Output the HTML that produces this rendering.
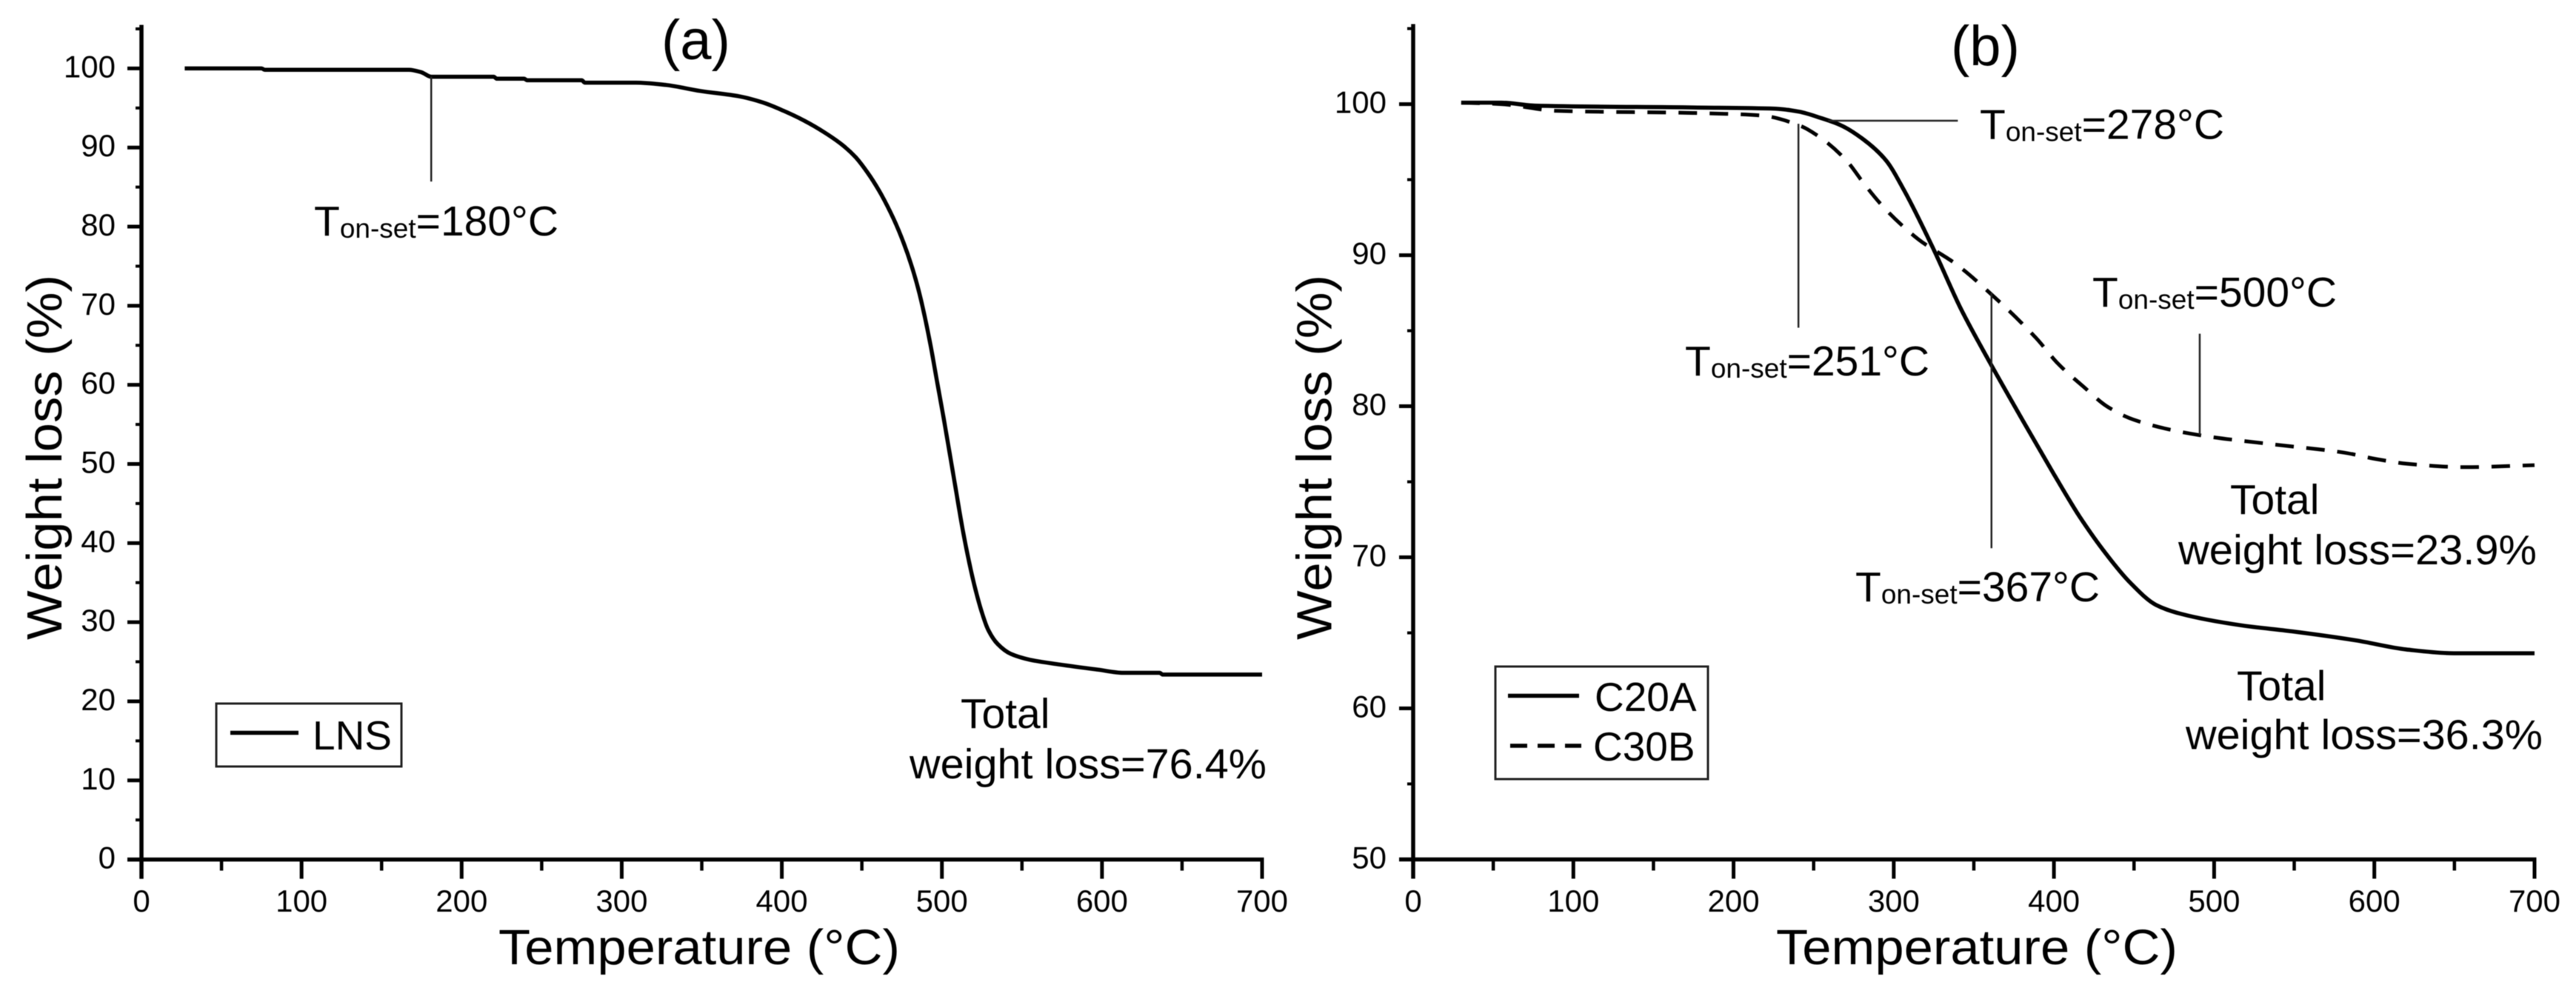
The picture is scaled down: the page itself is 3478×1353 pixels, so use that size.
<!DOCTYPE html>
<html lang="en">
<head>
<meta charset="utf-8">
<title>TGA weight loss curves</title>
<style>
html,body{margin:0;padding:0;background:#fff;}
svg{display:block;filter:blur(0.5px);}
text{font-family:"Liberation Sans",Arial,sans-serif;fill:#000;}
.tick{font-size:42px;}
.axt{font-size:67px;}
.ann{font-size:57px;}
.sub{font-size:37px;}
.ttl{font-size:76px;}
.leg{font-size:55px;}
</style>
</head>
<body>
<svg id="fig" xmlns="http://www.w3.org/2000/svg" width="3478" height="1353" viewBox="0 0 3478 1353">
  <g id="panelA">
    <text class="ttl" x="893" y="80">(a)</text>
    <text class="axt" x="673" y="1302" textLength="542" lengthAdjust="spacingAndGlyphs">Temperature (°C)</text>
    <text class="axt" transform="translate(83,864) rotate(-90)" textLength="493" lengthAdjust="spacingAndGlyphs">Weight loss (%)</text>
    <text class="ann" x="424" y="318">T<tspan class="sub" dy="3">on-set</tspan><tspan dy="-3">=180°C</tspan></text>
    <text class="ann" x="1297" y="983">Total</text>
    <text class="ann" x="1228" y="1051" textLength="482" lengthAdjust="spacingAndGlyphs">weight loss=76.4%</text>
    <rect x="292" y="950" width="250" height="85" fill="none" stroke="#222" stroke-width="3"/>
    <line x1="311" y1="989.5" x2="403" y2="989.5" stroke="#000" stroke-width="5.5"/>
    <text class="leg" x="422" y="1012">LNS</text>
  </g>
  <g id="panelB">
    <text class="ttl" x="2634" y="88">(b)</text>
    <text class="axt" x="2398" y="1302" textLength="542" lengthAdjust="spacingAndGlyphs">Temperature (°C)</text>
    <text class="axt" transform="translate(1797.6,864) rotate(-90)" textLength="493" lengthAdjust="spacingAndGlyphs">Weight loss (%)</text>
    <text class="ann" x="2275" y="507">T<tspan class="sub" dy="3">on-set</tspan><tspan dy="-3">=251°C</tspan></text>
    <text class="ann" x="2673" y="187.5">T<tspan class="sub" dy="3">on-set</tspan><tspan dy="-3">=278°C</tspan></text>
    <text class="ann" x="2825" y="414">T<tspan class="sub" dy="3">on-set</tspan><tspan dy="-3">=500°C</tspan></text>
    <text class="ann" x="2505" y="812">T<tspan class="sub" dy="3">on-set</tspan><tspan dy="-3">=367°C</tspan></text>
    <text class="ann" x="3011" y="694">Total</text>
    <text class="ann" x="2941" y="762" textLength="484" lengthAdjust="spacingAndGlyphs">weight loss=23.9%</text>
    <text class="ann" x="3020" y="945.7">Total</text>
    <text class="ann" x="2951" y="1011.5" textLength="482" lengthAdjust="spacingAndGlyphs">weight loss=36.3%</text>
    <rect x="2019" y="900" width="287" height="152" fill="none" stroke="#222" stroke-width="3"/>
    <line x1="2036" y1="939.5" x2="2132" y2="939.5" stroke="#000" stroke-width="5.5"/>
    <line x1="2039" y1="1007" x2="2135" y2="1007" stroke="#000" stroke-width="5.5" stroke-dasharray="23 14"/>
    <text class="leg" x="2153" y="960">C20A</text>
    <text class="leg" x="2151" y="1027">C30B</text>
  </g>
</svg>
<script>
// ---- chart values ----
const xTickLabels = [0, 100, 200, 300, 400, 500, 600, 700];
const xMinorValues = [50, 150, 250, 350, 450, 550, 650];
const yTickLabelsA = [0, 10, 20, 30, 40, 50, 60, 70, 80, 90, 100];
const yMinorValuesA = [5, 15, 25, 35, 45, 55, 65, 75, 85, 95, 105];
const yTickLabelsB = [50, 60, 70, 80, 90, 100];
const yMinorValuesB = [55, 65, 75, 85, 95, 105];

const lnsTemps = [27, 75, 77, 167, 175, 181, 220, 222, 239, 241, 275, 277, 309, 328, 349, 374, 388, 401, 414, 427.5, 438, 446, 454, 462, 470, 476, 481, 485, 489, 493, 497, 501, 505, 509, 513, 517, 521, 525, 529, 535, 543, 555, 573.6, 597.4, 613.4, 636, 638, 700];
const lnsWeights = [100, 100, 99.83, 99.83, 99.5, 98.95, 98.95, 98.7, 98.7, 98.5, 98.5, 98.2, 98.2, 97.9, 97.15, 96.45, 95.7, 94.65, 93.4, 91.8, 90.3, 88.8, 86.7, 84.1, 80.9, 78, 75.1, 72.3, 68.9, 64.9, 60.4, 55.9, 51.2, 46.4, 41.7, 37.6, 34.1, 31.2, 29, 27.2, 26, 25.25, 24.65, 24, 23.6, 23.6, 23.38, 23.38];

const c20aTemps = [30, 55, 76, 174.5, 226, 241, 254, 267, 280.6, 295, 305.9, 324.4, 341.7, 360, 381.4, 400, 416, 432, 447.8, 463.7, 479.5, 516.7, 548.6, 588.5, 620, 649.6, 700];
const c20aWeights = [100.1, 100.1, 99.9, 99.78, 99.7, 99.5, 99.1, 98.6, 97.7, 96.3, 94.4, 90.5, 86.5, 82.9, 78.9, 75.5, 72.7, 70.3, 68.3, 66.85, 66.25, 65.5, 65.1, 64.5, 63.9, 63.65, 63.65];

const c30bTemps = [30, 55, 89.6, 179.8, 216.8, 240.9, 254, 271, 280.6, 292.6, 305.9, 316, 339, 360, 389, 402.7, 418.4, 433, 450, 490, 535, 580, 601.5, 620, 657, 700];
const c30bWeights = [100.1, 100.0, 99.56, 99.4, 99.25, 98.6, 97.8, 96.2, 94.85, 93.3, 91.9, 91.0, 89.4, 87.5, 84.5, 82.8, 81.3, 80, 79.1, 78.1, 77.5, 76.95, 76.5, 76.2, 75.97, 76.1];

// onset leaders: temperature, and the weight values the stem spans
const leaderATemps = [181];
const leaderAFrom = [98.95];
const leaderATo = [85.7];
const leaderBTemps = [240.5, 361, 491];
const leaderBFrom = [98.7, 87.5, 78.1];
const leaderBTo = [85.2, 70.6, 84.8];
const leaderBHorizWeight = [98.9];
const leaderBHorizFrom = [259];
const leaderBHorizTo = [340];

// ---- axis functions ----
const xA = t => 191 + (t / 700) * 1513;
const yA = w => 1160.6 - (w / 100) * 1068.2;
const xB = t => 1908 + (t / 700) * 1514;
const yB = w => 1160.5 - ((w - 50) / 50) * 1019.9;

const NS = 'http://www.w3.org/2000/svg';
function make(tag, attrs, parent) {
  const el = document.createElementNS(NS, tag);
  for (const k in attrs) el.setAttribute(k, attrs[k]);
  parent.appendChild(el);
  return el;
}
function seg(parent, x1, y1, x2, y2, w, color) {
  return make('line', {x1, y1, x2, y2, stroke: color || '#000', 'stroke-width': w}, parent);
}
// monotone cubic path through the mapped data points
function curvePath(xs, ys, fx, fy) {
  const px = xs.map(fx), py = ys.map(fy), n = px.length;
  const s = [];
  for (let i = 0; i < n - 1; i++) s.push((py[i + 1] - py[i]) / (px[i + 1] - px[i]));
  const m = [s[0]];
  for (let i = 1; i < n - 1; i++) {
    if (s[i - 1] * s[i] <= 0) { m.push(0); continue; }
    const h0 = px[i] - px[i - 1], h1 = px[i + 1] - px[i];
    m.push((3 * (h0 + h1)) / ((2 * h1 + h0) / s[i - 1] + (h1 + 2 * h0) / s[i]));
  }
  m.push(s[n - 2]);
  let d = 'M' + px[0].toFixed(1) + ' ' + py[0].toFixed(1);
  for (let i = 0; i < n - 1; i++) {
    const h = (px[i + 1] - px[i]) / 3;
    d += ' C' + (px[i] + h).toFixed(1) + ' ' + (py[i] + m[i] * h).toFixed(1) + ' ' +
         (px[i + 1] - h).toFixed(1) + ' ' + (py[i + 1] - m[i + 1] * h).toFixed(1) + ' ' +
         px[i + 1].toFixed(1) + ' ' + py[i + 1].toFixed(1);
  }
  return d;
}
function drawAxes(parent, fx, fy, yMin, yTop, yLabels, yMinors, yLabelX) {
  const x0 = fx(0), y0 = fy(yMin);
  const yAxis = seg(parent, x0, fy(yTop), x0, y0 + 26, 5.5);
  
  
  const xAxis = seg(parent, x0 - 19, y0, fx(700) + 2.5, y0, 5.5);
  
  
  xTickLabels.forEach(v => {
    const tk = seg(parent, fx(v), y0, fx(v), y0 + 26, 5);
    
    
    const lb = make('text', {class: 'tick', x: fx(v), y: 1231, 'text-anchor': 'middle'}, parent);
    lb.textContent = v;
    
    
  });
  xMinorValues.forEach(v => {
    const tk = seg(parent, fx(v), y0, fx(v), y0 + 15, 4.5);
    
    
  });
  yLabels.forEach(v => {
    const tk = seg(parent, x0 - 19, fy(v), x0, fy(v), 5);
    
    
    const lb = make('text', {class: 'tick', x: yLabelX, y: fy(v) + 12, 'text-anchor': 'end'}, parent);
    lb.textContent = v;
    
    
  });
  yMinors.forEach(v => {
    const tk = seg(parent, x0 - 8, fy(v), x0, fy(v), 4);
    
    
  });
}

const panelA = document.getElementById('panelA');
const panelB = document.getElementById('panelB');

drawAxes(panelA, xA, yA, 0, 105.5, yTickLabelsA, yMinorValuesA, 156);
drawAxes(panelB, xB, yB, 50, 105.3, yTickLabelsB, yMinorValuesB, 1872);

const lnsCurve = make('path', {d: curvePath(lnsTemps, lnsWeights, xA, yA), fill: 'none', stroke: '#000', 'stroke-width': 5.5, 'stroke-linejoin': 'round'}, panelA);



const c30bCurve = make('path', {d: curvePath(c30bTemps, c30bWeights, xB, yB), fill: 'none', stroke: '#000', 'stroke-width': 5, 'stroke-dasharray': '25 17'}, panelB);



const c20aCurve = make('path', {d: curvePath(c20aTemps, c20aWeights, xB, yB), fill: 'none', stroke: '#000', 'stroke-width': 5.5, 'stroke-linejoin': 'round'}, panelB);



leaderATemps.forEach((t, i) => {
  const l = seg(panelA, xA(t), yA(leaderAFrom[i]), xA(t), yA(leaderATo[i]), 2.5, '#222');
  
  
});
leaderBTemps.forEach((t, i) => {
  const l = seg(panelB, xB(t), yB(leaderBFrom[i]), xB(t), yB(leaderBTo[i]), 2.5, '#222');
  
  
});
leaderBHorizWeight.forEach((w, i) => {
  const l = seg(panelB, xB(leaderBHorizFrom[i]), yB(w), xB(leaderBHorizTo[i]), yB(w), 2.5, '#222');
  
  
});
</script>
</body>
</html>
